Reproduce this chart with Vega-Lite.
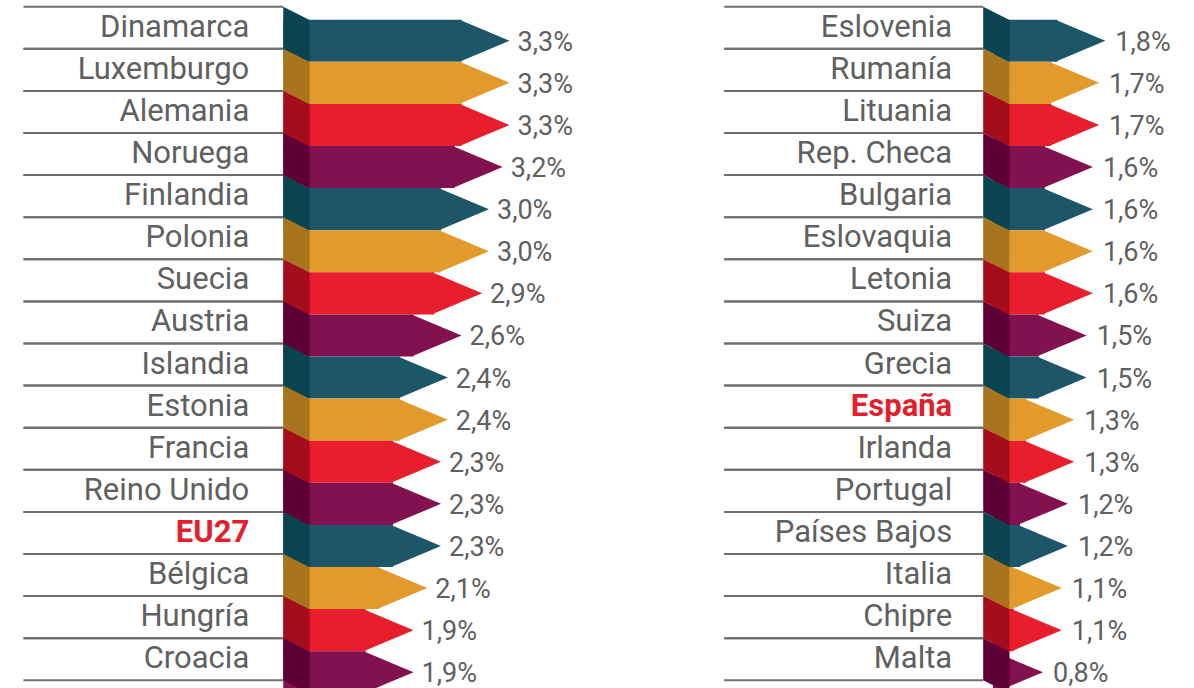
{
  "$schema": "https://vega.github.io/schema/vega-lite/v6.json",
  "padding": {"left": 9, "top": 5.7, "right": 0, "bottom": 0},
  "background": "white",
  "datasets": {
    "izq": [
      {"pais": "Dinamarca", "v": 0.033},
      {"pais": "Luxemburgo", "v": 0.033},
      {"pais": "Alemania", "v": 0.033},
      {"pais": "Noruega", "v": 0.032},
      {"pais": "Finlandia", "v": 0.030},
      {"pais": "Polonia", "v": 0.030},
      {"pais": "Suecia", "v": 0.029},
      {"pais": "Austria", "v": 0.026},
      {"pais": "Islandia", "v": 0.024},
      {"pais": "Estonia", "v": 0.024},
      {"pais": "Francia", "v": 0.023},
      {"pais": "Reino Unido", "v": 0.023},
      {"pais": "EU27", "v": 0.023},
      {"pais": "Bélgica", "v": 0.021},
      {"pais": "Hungría", "v": 0.019},
      {"pais": "Croacia", "v": 0.019}
    ],
    "der": [
      {"pais": "Eslovenia", "v": 0.018},
      {"pais": "Rumanía", "v": 0.017},
      {"pais": "Lituania", "v": 0.017},
      {"pais": "Rep. Checa", "v": 0.016},
      {"pais": "Bulgaria", "v": 0.016},
      {"pais": "Eslovaquia", "v": 0.016},
      {"pais": "Letonia", "v": 0.016},
      {"pais": "Suiza", "v": 0.015},
      {"pais": "Grecia", "v": 0.015},
      {"pais": "España", "v": 0.013},
      {"pais": "Irlanda", "v": 0.013},
      {"pais": "Portugal", "v": 0.012},
      {"pais": "Países Bajos", "v": 0.012},
      {"pais": "Italia", "v": 0.011},
      {"pais": "Chipre", "v": 0.011},
      {"pais": "Malta", "v": 0.008}
    ]
  },
  "spacing": 89.7,
  "resolve": {"scale": {"x": "independent", "y": "independent", "color": "independent", "fill": "independent"}},
  "hconcat": [
    {
      "width": 582.8,
      "height": 682.3,
      "data": {"name": "izq"},
      "encoding": {
        "y": {"field": "pais", "type": "nominal", "sort": null, "axis": null,
              "scale": {"type": "band", "paddingInner": 0, "paddingOuter": 0.1033, "align": 0}}
      },
      "layer": [
        {
          "mark": {"type": "rule", "color": "#6e6e6e", "strokeWidth": 2},
          "encoding": {
            "x": {"datum": -0.03789, "type": "quantitative", "axis": null, "scale": {"domain": [-0.04, 0.045], "nice": false, "zero": false}},
            "x2": {"datum": 0},
            "y": {"field": "pais", "type": "nominal", "sort": null, "axis": null, "bandPosition": 0}
          }
        },
        {
          "mark": {"type": "rule", "color": "#6e6e6e", "strokeWidth": 2},
          "encoding": {
            "x": {"datum": -0.03789, "type": "quantitative", "axis": null},
            "x2": {"datum": 0},
            "y": {"field": "pais", "type": "nominal", "sort": null, "axis": null, "bandPosition": 1}
          }
        },
        {
          "mark": {"type": "bar", "xOffset": -48, "x2Offset": 26, "yOffset": 13, "clip": true},
          "encoding": {
            "x": {"field": "v", "type": "quantitative", "axis": null, "stack": null},
            "color": {"field": "pais", "type": "nominal", "sort": null, "legend": null,
                      "scale": {"range": ["#1d5669", "#e29a2c", "#e91e2d", "#82114f"]}}
          }
        },
        {
          "mark": {"type": "point", "shape": "M -1.02 -0.4286 L 0 0 L -1.02 0.4286 Z", "size": 9604,
                   "filled": true, "opacity": 1, "strokeWidth": 0, "yOffset": 13, "clip": true},
          "encoding": {
            "x": {"field": "v", "type": "quantitative", "axis": null},
            "color": {"field": "pais", "type": "nominal", "sort": null, "legend": null}
          }
        },
        {
          "mark": {"type": "point", "shape": "M -0.4696 -0.99 L 0.4696 -0.515 L 0.4696 0.99 L -0.4696 0.515 Z", "size": 3136,
                   "filled": true, "opacity": 1, "strokeWidth": 0, "xOffset": 13.15, "yOffset": 6.6, "clip": true},
          "encoding": {
            "x": {"datum": 0, "type": "quantitative", "axis": null},
            "fill": {"field": "pais", "type": "nominal", "sort": null, "legend": null,
                     "scale": {"range": ["#0a4451", "#a9741e", "#a30d1c", "#5e0035"]}}
          }
        },
        {
          "mark": {"type": "text", "align": "right", "baseline": "middle", "dx": -34, "font": "Roboto", "fontSize": 31, "color": "#606060"},
          "encoding": {
            "x": {"datum": 0, "type": "quantitative", "axis": null},
            "text": {"field": "pais", "type": "nominal"},
            "opacity": {"condition": {"test": "datum.pais === 'EU27'", "value": 0}, "value": 1}
          }
        },
        {
          "mark": {"type": "text", "align": "right", "baseline": "middle", "dx": -34, "font": "Roboto", "fontSize": 31, "fontWeight": "bold", "color": "#e31e2d"},
          "encoding": {
            "x": {"datum": 0, "type": "quantitative", "axis": null},
            "text": {"field": "pais", "type": "nominal"},
            "opacity": {"condition": {"test": "datum.pais === 'EU27'", "value": 1}, "value": 0}
          }
        },
        {
          "mark": {"type": "text", "align": "left", "baseline": "middle", "dx": 8, "dy": 15, "font": "Roboto", "fontSize": 27, "color": "#606060"},
          "encoding": {
            "x": {"field": "v", "type": "quantitative", "axis": null},
            "text": {"field": "v", "type": "quantitative", "format": ".1%"}
          }
        }
      ]
    },
    {
      "width": 498.4,
      "height": 682.3,
      "data": {"name": "der"},
      "encoding": {
        "y": {"field": "pais", "type": "nominal", "sort": null, "axis": null,
              "scale": {"type": "band", "paddingInner": 0, "paddingOuter": 0.1033, "align": 0}}
      },
      "layer": [
        {
          "mark": {"type": "rule", "color": "#6e6e6e", "strokeWidth": 2},
          "encoding": {
            "x": {"datum": -0.04318, "type": "quantitative", "axis": null, "scale": {"domain": [-0.05, 0.03], "nice": false, "zero": false}},
            "x2": {"datum": -0.001605},
            "y": {"field": "pais", "type": "nominal", "sort": null, "axis": null, "bandPosition": 0}
          }
        },
        {
          "mark": {"type": "rule", "color": "#6e6e6e", "strokeWidth": 2},
          "encoding": {
            "x": {"datum": -0.04318, "type": "quantitative", "axis": null},
            "x2": {"datum": -0.001605},
            "y": {"field": "pais", "type": "nominal", "sort": null, "axis": null, "bandPosition": 1}
          }
        },
        {
          "mark": {"type": "bar", "xOffset": -48, "x2Offset": 16.3, "yOffset": 13, "clip": true},
          "encoding": {
            "x": {"field": "v", "type": "quantitative", "axis": null, "stack": null},
            "color": {"field": "pais", "type": "nominal", "sort": null, "legend": null,
                      "scale": {"range": ["#1d5669", "#e29a2c", "#e91e2d", "#82114f"]}}
          }
        },
        {
          "mark": {"type": "point", "shape": "M -1.02 -0.4286 L 0 0 L -1.02 0.4286 Z", "size": 9604,
                   "filled": true, "opacity": 1, "strokeWidth": 0, "yOffset": 13, "clip": true},
          "encoding": {
            "x": {"field": "v", "type": "quantitative", "axis": null},
            "color": {"field": "pais", "type": "nominal", "sort": null, "legend": null}
          }
        },
        {
          "mark": {"type": "point", "shape": "M -0.4696 -0.99 L 0.4696 -0.515 L 0.4696 0.99 L -0.4696 0.515 Z", "size": 3136,
                   "filled": true, "opacity": 1, "strokeWidth": 0, "xOffset": 3.15, "yOffset": 6.6, "clip": true},
          "encoding": {
            "x": {"datum": 0, "type": "quantitative", "axis": null},
            "fill": {"field": "pais", "type": "nominal", "sort": null, "legend": null,
                     "scale": {"range": ["#0a4451", "#a9741e", "#a30d1c", "#5e0035"]}}
          }
        },
        {
          "mark": {"type": "text", "align": "right", "baseline": "middle", "dx": -41, "font": "Roboto", "fontSize": 31, "color": "#606060"},
          "encoding": {
            "x": {"datum": 0, "type": "quantitative", "axis": null},
            "text": {"field": "pais", "type": "nominal"},
            "opacity": {"condition": {"test": "datum.pais === 'España'", "value": 0}, "value": 1}
          }
        },
        {
          "mark": {"type": "text", "align": "right", "baseline": "middle", "dx": -41, "font": "Roboto", "fontSize": 31, "fontWeight": "bold", "color": "#e31e2d"},
          "encoding": {
            "x": {"datum": 0, "type": "quantitative", "axis": null},
            "text": {"field": "pais", "type": "nominal"},
            "opacity": {"condition": {"test": "datum.pais === 'España'", "value": 1}, "value": 0}
          }
        },
        {
          "mark": {"type": "text", "align": "left", "baseline": "middle", "dx": 10, "dy": 15, "font": "Roboto", "fontSize": 27, "color": "#606060"},
          "encoding": {
            "x": {"field": "v", "type": "quantitative", "axis": null},
            "text": {"field": "v", "type": "quantitative", "format": ".1%"}
          }
        }
      ]
    }
  ],
  "config": {
    "view": {"stroke": null},
    "locale": {"number": {"decimal": ",", "thousands": ".", "grouping": [3], "currency": ["", " €"]}}
  }
}
